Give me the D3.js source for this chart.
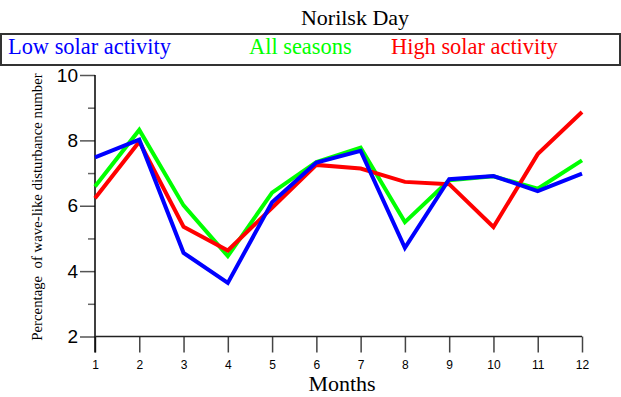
<!DOCTYPE html>
<html>
<head>
<meta charset="utf-8">
<script src="https://cdn.jsdelivr.net/npm/d3@7"></script>
<style>
  html, body { margin: 0; padding: 0; background: #fff; }
  svg { display: block; }
</style>
</head>
<body>
<svg id="chart" width="621" height="397"></svg>
<script>
const months = [1, 2, 3, 4, 5, 6, 7, 8, 9, 10, 11, 12];
const lowSolar  = [7.48, 8.02, 4.56, 3.64, 6.11, 7.32, 7.68, 4.71, 6.81, 6.91, 6.45, 6.98];
const allSeasons = [6.59, 8.32, 6.01, 4.46, 6.40, 7.34, 7.78, 5.50, 6.78, 6.90, 6.52, 7.39];
const highSolar = [6.23, 7.96, 5.36, 4.63, 5.94, 7.25, 7.14, 6.73, 6.66, 5.35, 7.58, 8.87];
const yMajorTicks = [2, 4, 6, 8, 10];
const yMinorTicks = [3, 5, 7, 9];
const seriesNames = ["Low solar activity", "All seasons", "High solar activity"];
const seriesColors = ["#0000ff", "#00ff00", "#ff0000"];
const titleText = "Norilsk Day";
const xTitle = "Months";
const yTitle = "Percentage  of wave-like disturbance number";

const svg = d3.select("#chart");
const serif = "'Liberation Serif', 'Times New Roman', serif";
const sans = "'Liberation Sans', Arial, sans-serif";

const x = d3.scaleLinear().domain([1, 12]).range([95, 582]);
const y = d3.scaleLinear().domain([2, 10]).range([336.5, 75]);

// Title
svg.append("text").attr("x", 355).attr("y", 25).attr("text-anchor", "middle")
  .attr("font-family", serif).attr("font-size", 22).attr("fill", "#000").text(titleText);

// Legend box
svg.append("rect").attr("x", 1).attr("y", 34).attr("width", 619).attr("height", 31)
  .attr("fill", "none").attr("stroke", "#333").attr("stroke-width", 2);
const legendX = [8, 249, 391];
seriesNames.forEach((n, i) => {
  svg.append("text").attr("x", legendX[i]).attr("y", 53.5)
    .attr("font-family", serif).attr("font-size", 22.4).attr("fill", seriesColors[i]).text(n);
});

// Y axis
const yAxis = d3.axisLeft(y).tickValues(yMajorTicks).tickSize(15).tickPadding(2)
  .tickFormat(d3.format("d"));
const gy = svg.append("g").attr("transform", "translate(95,0)").call(yAxis);
gy.select(".domain").remove();
gy.selectAll(".tick line").attr("stroke", "#555").attr("stroke-width", 1.5);
gy.selectAll(".tick text").attr("font-family", sans).attr("font-size", 19).attr("fill", "#000");
const gyMinor = svg.append("g").attr("transform", "translate(95,0)")
  .call(d3.axisLeft(y).tickValues(yMinorTicks).tickSize(7).tickFormat(""));
gyMinor.select(".domain").remove();
gyMinor.selectAll(".tick line").attr("stroke", "#666").attr("stroke-width", 1.5);

// X axis
const xAxis = d3.axisBottom(x).tickValues(months).tickSize(16).tickPadding(8)
  .tickFormat(d3.format("d"));
const gx = svg.append("g").attr("transform", `translate(0,${y(2)})`).call(xAxis);
gx.select(".domain").remove();
gx.selectAll(".tick line").attr("stroke", "#444").attr("stroke-width", 1.5);
gx.selectAll(".tick text").attr("font-family", sans).attr("font-size", 12).attr("fill", "#000");

// axis lines
svg.append("line").attr("x1", x(1)).attr("x2", x(1)).attr("y1", y(10)).attr("y2", y(2) + 16)
  .attr("stroke", "#000").attr("stroke-width", 1.5);
svg.append("line").attr("x1", x(1)).attr("x2", x(12)).attr("y1", y(2)).attr("y2", y(2))
  .attr("stroke", "#222").attr("stroke-width", 1.5);

// Axis titles
svg.append("text").attr("x", 342).attr("y", 391).attr("text-anchor", "middle")
  .attr("font-family", serif).attr("font-size", 22).attr("fill", "#000").text(xTitle);
svg.append("text").attr("transform", "translate(42,207) rotate(-90)").attr("text-anchor", "middle")
  .attr("font-family", serif).attr("font-size", 14.8).attr("fill", "#000")
  .style("white-space", "pre").text(yTitle);

// Lines
const line = d3.line().x((d, i) => x(months[i])).y(d => y(d));
const drawOrder = [[allSeasons, seriesColors[1]], [highSolar, seriesColors[2]], [lowSolar, seriesColors[0]]];
drawOrder.forEach(([vals, col]) => {
  svg.append("path").datum(vals).attr("d", line).attr("fill", "none")
    .attr("stroke", col).attr("stroke-width", 4).attr("stroke-linejoin", "miter");
});
</script>
</body>
</html>
